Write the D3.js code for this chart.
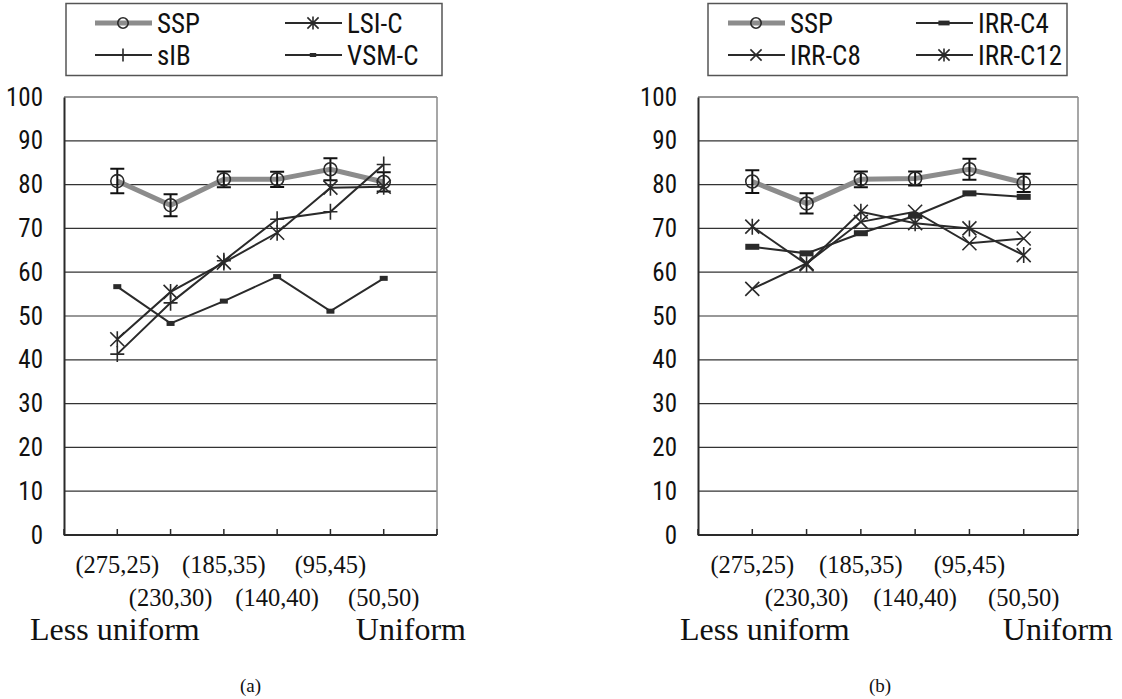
<!DOCTYPE html>
<html>
<head>
<meta charset="utf-8">
<script src="https://cdn.jsdelivr.net/npm/d3@7"></script>
<style>
  body { margin: 0; background: #fff; }
  svg { display: block; }
</style>
</head>
<body>
<div id="chart"></div>
<script>
// data
const categories = ['(275,25)', '(230,30)', '(185,35)', '(140,40)', '(95,45)', '(50,50)'];
const yTicks = [0, 10, 20, 30, 40, 50, 60, 70, 80, 90, 100];

// panel (a)
const sspA = [80.8, 75.3, 81.2, 81.2, 83.5, 80.6];
const sspErrA = [2.8, 2.5, 1.8, 1.75, 2.5, 2.2];
const lsiC = [44.7, 55.5, 62.2, 69.0, 79.3, 79.5];
const sIB = [41.3, 53.0, 62.6, 72.1, 73.8, 84.6];
const vsmC = [56.7, 48.3, 53.4, 59.0, 51.1, 58.6];

// panel (b)
const sspB = [80.7, 75.7, 81.2, 81.4, 83.5, 80.4];
const sspErrB = [2.6, 2.3, 1.8, 1.6, 2.4, 2.1];
const irrC4 = [65.8, 64.3, 68.9, 72.9, 78.0, 77.2];
const irrC8 = [56.2, 62.0, 71.5, 73.8, 66.6, 67.7];
const irrC12 = [70.4, 61.8, 73.8, 71.2, 70.0, 63.9];

const width = 1122, height = 699;
const sans = "'Roboto Condensed', 'DejaVu Sans Condensed', sans-serif";
const serif = "'Liberation Serif', 'Times New Roman', serif";
const ink = '#2a2a2a';

const svg = d3.select('#chart').append('svg')
  .attr('width', width).attr('height', height);
svg.append('rect').attr('width', width).attr('height', height).attr('fill', '#fff');

function drawMarker(g, type, k) {
  k = k || 1;
  if (type === 'circle') {
    g.append('circle').attr('r', 6.5 * k)
      .attr('fill', 'none').attr('stroke', ink).attr('stroke-width', 1.6);
  } else if (type === 'star') {
    g.append('path')
      .attr('d', `M${-7*k},${-7*k}L${7*k},${7*k}M${-7*k},${7*k}L${7*k},${-7*k}M0,${-8*k}L0,${8*k}`)
      .attr('stroke', ink).attr('stroke-width', 1.6).attr('fill', 'none');
  } else if (type === 'plus') {
    g.append('path')
      .attr('d', `M${-7*k},0L${7*k},0M0,${-8*k}L0,${8*k}`)
      .attr('stroke', ink).attr('stroke-width', 1.6).attr('fill', 'none');
  } else if (type === 'x') {
    g.append('path')
      .attr('d', `M${-7*k},${-7*k}L${7*k},${7*k}M${-7*k},${7*k}L${7*k},${-7*k}`)
      .attr('stroke', ink).attr('stroke-width', 1.6).attr('fill', 'none');
  } else if (type === 'sq') {
    g.append('rect').attr('x', -4 * k).attr('y', -2.5 * k)
      .attr('width', 8 * k).attr('height', 5 * k).attr('fill', ink);
  } else if (type === 'bar') {
    g.append('rect').attr('x', -7 * k).attr('y', -3 * k)
      .attr('width', 14 * k).attr('height', 6 * k).attr('fill', ink);
  }
}

function panel(p) {
  const x = d3.scalePoint().domain(categories).range([p.x0, p.x1]).padding(1);
  const y = d3.scaleLinear().domain([0, 100]).range([535, 97]);
  const g = svg.append('g');

  // grid lines
  g.append('g').selectAll('line').data(yTicks.filter(d => d > 0)).join('line')
    .attr('x1', p.x0).attr('x2', p.x1)
    .attr('y1', d => y(d)).attr('y2', d => y(d))
    .attr('stroke', '#333').attr('stroke-width', 1.2);
  // right border of plot area
  g.append('line').attr('x1', p.x1).attr('x2', p.x1).attr('y1', y(100)).attr('y2', y(0))
    .attr('stroke', '#8a8a8a').attr('stroke-width', 1.5);

  // y axis
  const yAxis = d3.axisLeft(y).tickValues(yTicks).tickSize(0).tickPadding(21);
  g.append('g').attr('transform', `translate(${p.x0},0)`).call(yAxis)
    .call(a => a.select('.domain').attr('stroke', ink).attr('stroke-width', 2))
    .call(a => a.selectAll('text').attr('font-size', 25).attr('fill', '#111')
      .style('font-family', sans));

  // x axis: ticks between categories
  const step = x.step();
  const tickPos = d3.range(categories.length + 2).map(i => p.x0 + i * step);
  g.append('line').attr('x1', p.x0).attr('x2', p.x1).attr('y1', y(0)).attr('y2', y(0))
    .attr('stroke', ink).attr('stroke-width', 2);
  g.append('g').selectAll('line').data(tickPos).join('line')
    .attr('x1', d => d).attr('x2', d => d)
    .attr('y1', y(0)).attr('y2', y(0) - 6)
    .attr('stroke', ink).attr('stroke-width', 1.5);

  // category labels, staggered in two rows
  g.append('g').selectAll('text').data(categories).join('text')
    .attr('x', d => x(d))
    .attr('y', (d, i) => i % 2 === 0 ? 573 : 606)
    .attr('text-anchor', 'middle')
    .attr('font-size', 24.5).attr('fill', '#111').style('font-family', serif)
    .text(d => d);
  g.append('text').attr('x', p.lessX).attr('y', 640)
    .attr('font-size', 32).attr('fill', '#111').style('font-family', serif)
    .text('Less uniform');
  g.append('text').attr('x', p.uniX).attr('y', 640).attr('text-anchor', 'end')
    .attr('font-size', 32).attr('fill', '#111').style('font-family', serif)
    .text('Uniform');
  g.append('text').attr('x', (p.x0 + p.x1) / 2 + p.capDx).attr('y', 692)
    .attr('text-anchor', 'middle')
    .attr('font-size', 19).attr('fill', '#111').style('font-family', serif)
    .text(p.caption);

  const line = d3.line().x((d, i) => x(categories[i])).y(d => y(d));

  // SSP with error bars
  g.append('path').datum(p.ssp).attr('d', line)
    .attr('fill', 'none').attr('stroke', '#8c8c8c').attr('stroke-width', 5);
  const eb = g.append('g').selectAll('g').data(p.ssp).join('g')
    .attr('transform', (d, i) => `translate(${x(categories[i])},0)`);
  eb.append('path')
    .attr('d', (d, i) => {
      const t = y(d + p.err[i]), b = y(d - p.err[i]);
      return `M-7,${t}H7M0,${t}V${b}M-7,${b}H7`;
    })
    .attr('stroke', '#111').attr('stroke-width', 2).attr('fill', 'none');
  eb.append('g').attr('transform', d => `translate(0,${y(d)})`)
    .each(function () { drawMarker(d3.select(this), 'circle'); });

  // other series
  p.series.forEach(s => {
    g.append('path').datum(s.values).attr('d', line)
      .attr('fill', 'none').attr('stroke', ink).attr('stroke-width', 2);
    g.append('g').selectAll('g').data(s.values).join('g')
      .attr('transform', (d, i) => `translate(${x(categories[i])},${y(d)})`)
      .each(function () { drawMarker(d3.select(this), s.marker); });
  });

  // legend
  const lg = svg.append('g');
  lg.append('rect').attr('x', p.leg.x).attr('y', 3.5)
    .attr('width', p.leg.w).attr('height', 72)
    .attr('fill', '#fff').attr('stroke', '#555').attr('stroke-width', 1.5);
  const items = [{name: 'SSP', marker: 'circle', ssp: true}].concat(p.series);
  items.forEach((it, k) => {
    const col = k % 2, row = Math.floor(k / 2);
    const lx = p.leg.cols[col], ly = 23 + row * 32;
    lg.append('line').attr('x1', lx).attr('x2', lx + 57).attr('y1', ly).attr('y2', ly)
      .attr('stroke', it.ssp ? '#8c8c8c' : ink).attr('stroke-width', it.ssp ? 5 : 1.8);
    drawMarker(lg.append('g').attr('transform', `translate(${lx + 28},${ly})`), it.marker, 0.8);
    lg.append('text').attr('x', lx + 62).attr('y', ly + 10)
      .attr('font-size', 27).attr('fill', '#111').style('font-family', sans)
      .text(it.name);
  });
}

panel({
  x0: 64, x1: 437, lessX: 30, uniX: 466, capDx: 0, caption: '(a)',
  ssp: sspA, err: sspErrA,
  series: [
    {name: 'LSI-C', values: lsiC, marker: 'star'},
    {name: 'sIB', values: sIB, marker: 'plus'},
    {name: 'VSM-C', values: vsmC, marker: 'sq'}
  ],
  leg: {x: 66, w: 376, cols: [95, 285]}
});

panel({
  x0: 698, x1: 1078, lessX: 680, uniX: 1113, capDx: -8, caption: '(b)',
  ssp: sspB, err: sspErrB,
  series: [
    {name: 'IRR-C4', values: irrC4, marker: 'bar'},
    {name: 'IRR-C8', values: irrC8, marker: 'x'},
    {name: 'IRR-C12', values: irrC12, marker: 'star'}
  ],
  leg: {x: 708, w: 359, cols: [728, 916]}
});
</script>
</body>
</html>
